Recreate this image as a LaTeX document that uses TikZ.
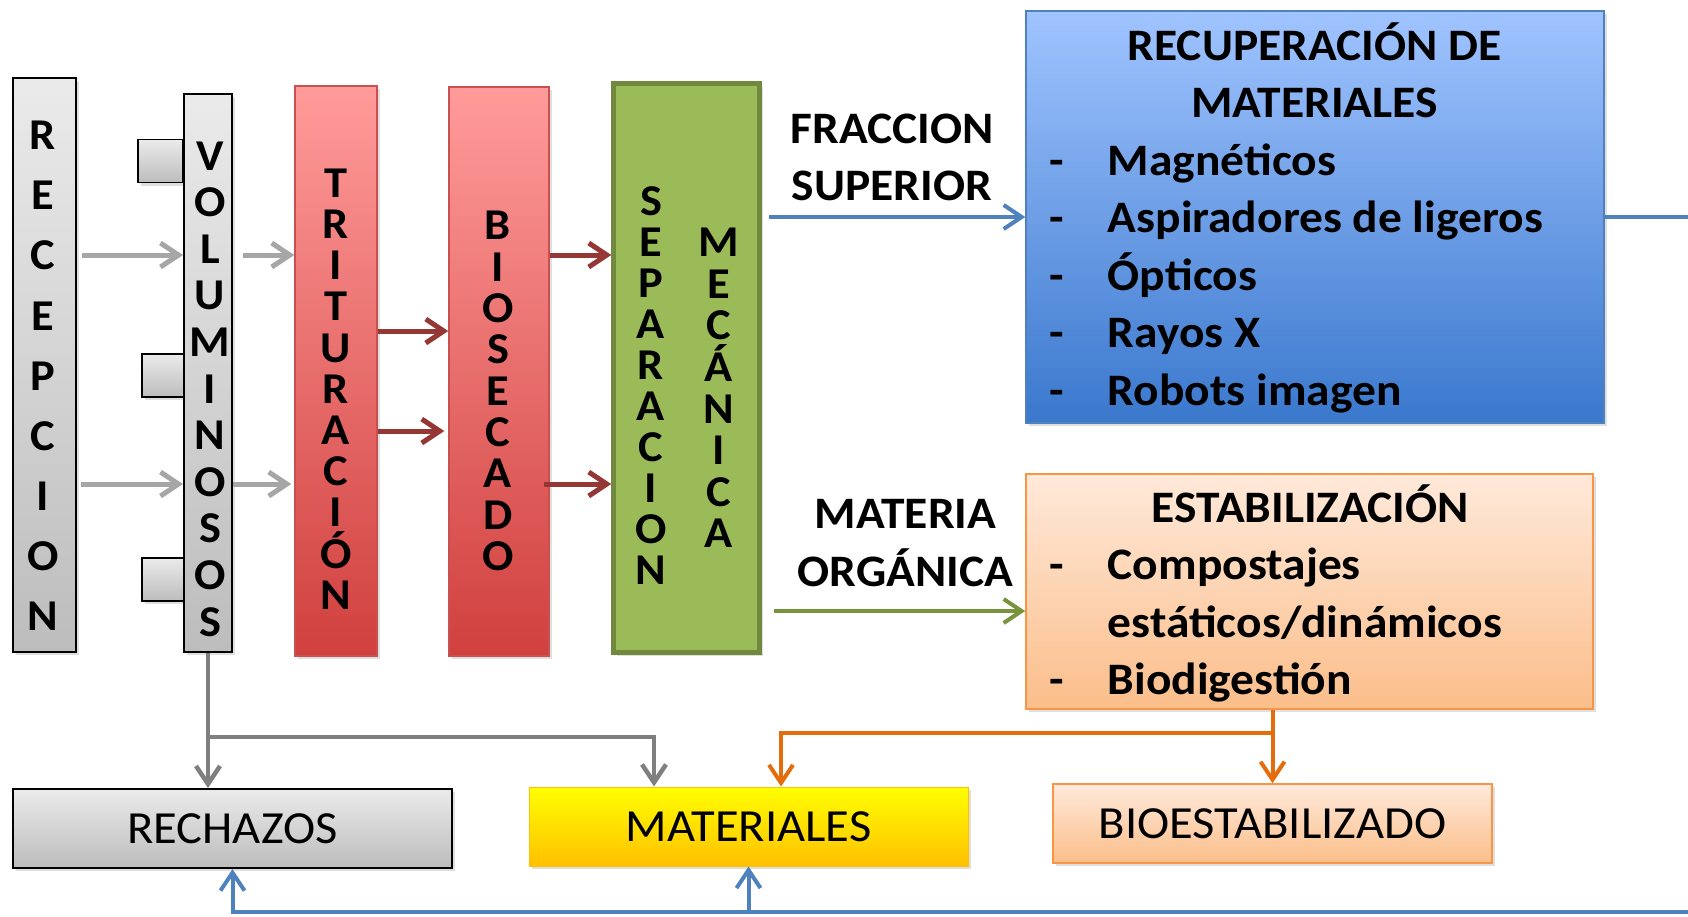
\documentclass[tikz,border=0pt]{standalone}
\usepackage{fontspec}
\setmainfont{Carlito}[FakeStretch=1.055]
\usepackage{array}
\usetikzlibrary{arrows.meta,shapes,calc,positioning,shadows}
\definecolor{lgray}{HTML}{A6A6A6}
\definecolor{dgray}{HTML}{7F7F7F}
\definecolor{dred}{HTML}{953735}
\definecolor{lblue}{HTML}{4F81BD}
\definecolor{lgreen}{HTML}{77933C}
\definecolor{dorange}{HTML}{E46C0A}
\tikzstyle{boxshadow} = [drop shadow={opacity=0.25, shadow xshift=3pt, shadow yshift=-3pt}]
\tikzstyle{graybox} = [rectangle, draw=black, line width=2pt, top color=white!92!black, bottom color=white!74!black, inner sep=0pt, boxshadow]
\tikzstyle{redbox} = [rectangle, draw={rgb,255:red,200;green,80;blue,78}, line width=1.5pt, top color={rgb,255:red,255;green,155;blue,154}, bottom color={rgb,255:red,208;green,64;blue,62}, inner sep=0pt, boxshadow]
\tikzstyle{greenbox} = [rectangle, draw={rgb,255:red,113;green,137;blue,63}, line width=4.5pt, fill={rgb,255:red,155;green,187;blue,89}, inner sep=0pt, boxshadow]
\tikzstyle{bluebox} = [rectangle, draw=lblue, line width=1.5pt, top color={rgb,255:red,160;green,196;blue,255}, bottom color={rgb,255:red,58;green,120;blue,205}, inner sep=0pt, boxshadow]
\tikzstyle{orangebox} = [rectangle, draw={rgb,255:red,247;green,150;blue,70}, line width=1.5pt, top color={rgb,255:red,255;green,233;blue,218}, bottom color={rgb,255:red,251;green,190;blue,138}, inner sep=0pt, boxshadow]
\tikzstyle{yellowbox} = [rectangle, draw={rgb,255:red,255;green,192;blue,0}, line width=1pt, top color={rgb,255:red,255;green,255;blue,0}, bottom color={rgb,255:red,255;green,192;blue,0}, inner sep=0pt, boxshadow]
\tikzstyle{vtext} = [align=center, inner sep=0pt, font=\fontsize{44}{41}\selectfont\bfseries]
\tikzstyle{lbltext} = [align=center, inner sep=0pt, font=\fontsize{45}{57.5}\selectfont\bfseries]
\tikzstyle{listtext} = [anchor=base west, inner sep=0pt, font=\fontsize{45}{57.5}\selectfont\bfseries]
\tikzstyle{outtext} = [font=\fontsize{46}{50}\selectfont]
\tikzstyle{arrow} = [line width=5pt, -{Straight Barb[length=18pt,width=24pt]}]

\begin{document}
\begin{tikzpicture}[x=1pt, y=-1pt, line join=miter]
	\useasboundingbox (0,0) rectangle (1688,916);
	\clip (0,0) rectangle (1688,916);
	\coordinate (rowA) at (0,255);
	\coordinate (rowB) at (0,484);
	\coordinate (rowC) at (0,331);
	\coordinate (rowD) at (0,431);
	\coordinate (rowE) at (0,611);
	\coordinate (jGray) at (0,737);
	\coordinate (jOrange) at (0,733);
	\coordinate (loopR) at (1720,912);
	\node (sq1) [graybox, line width=1.5pt, minimum width=45pt, minimum height=43pt] at (160.5,161) {};
	\node (sq2) [graybox, line width=1.5pt, minimum width=43pt, minimum height=43pt] at (163.5,375.5) {};
	\node (sq3) [graybox, line width=1.5pt, minimum width=43pt, minimum height=43pt] at (163.5,579.5) {};
	\node (recep) [graybox, minimum width=63pt, minimum height=574pt] at (44.5,365) {};
	\node (recepT) [vtext, font=\fontsize{44}{60.15}\selectfont\bfseries] at (43,376) {R\\E\\C\\E\\P\\C\\I\\O\\N};
	\node (volum) [graybox, minimum width=48pt, minimum height=558pt] at (208,373) {};
	\node (volumT) [vtext, font=\fontsize{44}{46.6}\selectfont\bfseries] at (210,389) {V\\O\\L\\U\\M\\I\\N\\O\\S\\O\\S};
	\node (trit) [redbox, minimum width=82pt, minimum height=570pt] at (336,371) {};
	\node (tritT) [vtext, font=\fontsize{44}{41.2}\selectfont\bfseries] at (336,389) {T\\R\\I\\T\\U\\R\\A\\C\\I\\Ó\\N};
	\node (biosec) [redbox, minimum width=100pt, minimum height=569pt] at (499,371.5) {};
	\node (biosecT) [vtext, font=\fontsize{44}{41.3}\selectfont\bfseries] at (498,391) {B\\I\\O\\S\\E\\C\\A\\D\\O};
	\node (separ) [greenbox, minimum width=146pt, minimum height=569pt] at (686.5,368) {};
	\node (separT) [vtext] at (651,386) {S\\E\\P\\A\\R\\A\\C\\I\\O\\N};
	\node (mecT) [vtext, font=\fontsize{44}{41.6}\selectfont\bfseries] at (719,388) {M\\E\\C\\Á\\N\\I\\C\\A};
	\node (rec) [bluebox, minimum width=578pt, minimum height=412pt] at (1315,217) {};
	\node (recT) [listtext] at (1049,60) {\begin{tabular}[t]{@{}p{58.6pt}@{}p{472pt}@{}}
		\multicolumn{2}{@{}c@{}}{RECUPERACIÓN DE}\\
		\multicolumn{2}{@{}c@{}}{MATERIALES}\\
		- & Magnéticos\\
		- & Aspiradores de ligeros\\
		- & Ópticos\\
		- & Rayos X\\
		- & Robots imagen
	\end{tabular}};
	\node (estab) [orangebox, minimum width=567pt, minimum height=235pt] at (1309.5,591.5) {};
	\node (estabT) [listtext] at (1049,522) {\begin{tabular}[t]{@{}p{58.6pt}@{}p{463pt}@{}}
		\multicolumn{2}{@{}c@{}}{ESTABILIZACIÓN}\\
		- & Compostajes\\
		  & estáticos/dinámicos\\
		- & Biodigestión
	\end{tabular}};
	\node (fracL) [lbltext] at (892,157.5) {FRACCION\\SUPERIOR};
	\node (matL) [lbltext] at (905.5,543) {MATERIA\\ORGÁNICA};
	\node (rech) [graybox, minimum width=439pt, minimum height=79pt, outtext] at (232.5,828.5) {RECHAZOS};
	\node (mat) [yellowbox, minimum width=439pt, minimum height=79pt, outtext] at (748.5,826.5) {MATERIALES};
	\node (bioest) [orangebox, minimum width=439pt, minimum height=79pt, outtext] at (1272.5,823.5) {BIOESTABILIZADO};
	\draw [arrow, lgray, shorten <=5pt] (recep.east |- rowA) -- (volum.west |- rowA);
	\draw [arrow, lgray, shorten <=4pt] (recep.east |- rowB) -- (volum.west |- rowB);
	\draw [arrow, lgray, shorten <=10pt] (volum.east |- rowA) -- (trit.west |- rowA);
	\draw [arrow, lgray, shorten >=3pt] (volum.east |- rowB) -- (trit.west |- rowB);
	\draw [arrow, dred] (trit.east |- rowC) -- (biosec.west |- rowC);
	\draw [arrow, dred, shorten >=4pt] (trit.east |- rowD) -- (biosec.west |- rowD);
	\draw [arrow, dred] (biosec.east |- rowA) -- (separ.west |- rowA);
	\draw [arrow, dred, shorten <=-6pt] (biosec.east |- rowB) -- (separ.west |- rowB);
	\draw [arrow, lblue, line width=4pt, shorten <=7pt] (separ.east |- rec.west) -- (rec.west);
	\draw [arrow, lgreen, line width=4pt, shorten <=12pt] (separ.east |- rowE) -- (estab.west |- rowE);
	\draw [arrow, dgray, line width=4.5pt] (volum.south) -- (volum.south |- rech.north);
	\draw [arrow, dgray, line width=4.5pt] (volum.south |- jGray) -| ([xshift=-94.5pt]mat.north);
	\draw [arrow, dorange, line width=4pt] (estab.south -| bioest.north) -- (bioest.north);
	\draw [arrow, dorange, line width=4pt] (bioest.north |- jOrange) -| ([xshift=32.5pt]mat.north);
	\draw [arrow, lblue, line width=4pt] (rec.east) -| (loopR) -| (rech.south);
	\draw [arrow, lblue, line width=4pt] (mat.south |- loopR) -- (mat.south);
\end{tikzpicture}
\end{document}
